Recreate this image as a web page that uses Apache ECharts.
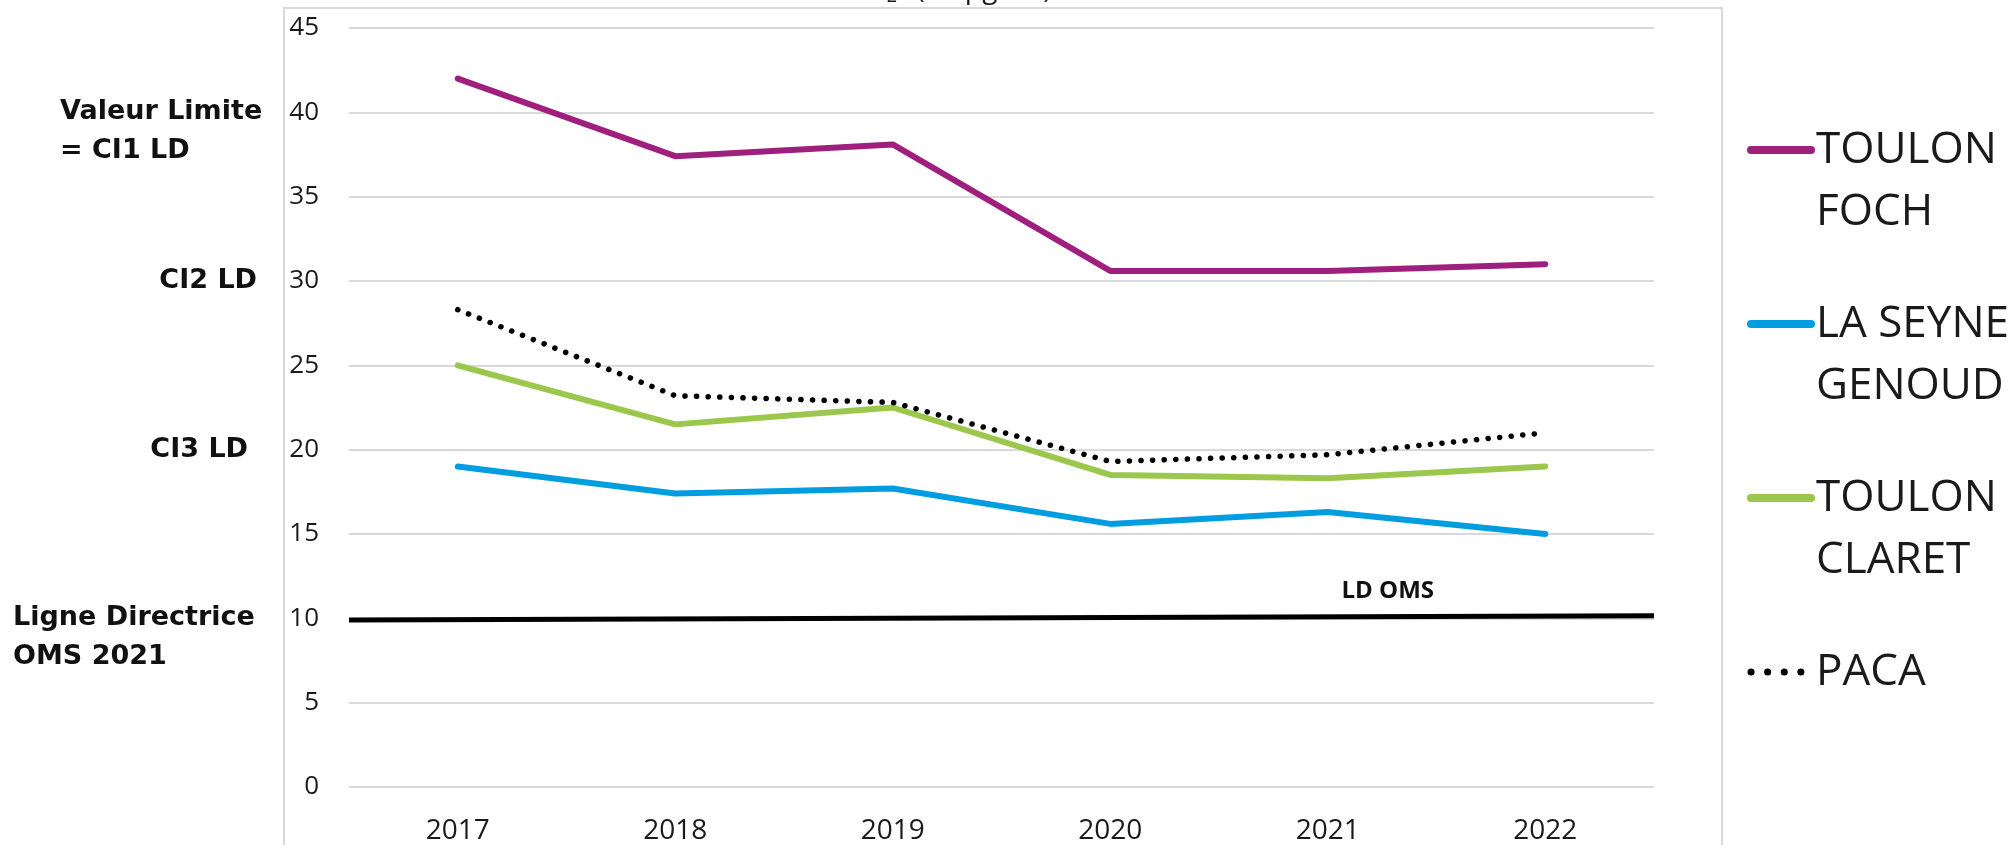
<!DOCTYPE html>
<html><head><meta charset="utf-8">
<script src="https://cdn.jsdelivr.net/npm/echarts@6/dist/echarts.min.js"></script>
<style>html,body{margin:0;padding:0;background:#fff;}#c{width:2013px;height:845px;}</style>
</head><body><div id="c"></div>
<script>
const years = ['2017','2018','2019','2020','2021','2022'];
const toulonFoch = [42.0, 37.4, 38.1, 30.6, 30.6, 31.0];
const laSeyneGenoud = [19.0, 17.4, 17.7, 15.6, 16.3, 15.0];
const toulonClaret = [25.0, 21.5, 22.5, 18.5, 18.3, 19.0];
const paca = [28.3, 23.2, 22.8, 19.3, 19.7, 21.0];
const omsLine = [[0, 9.9], [1, 10.15]];
const seriesNames = ['TOULON FOCH', 'LA SEYNE GENOUD', 'TOULON CLARET', 'PACA'];
const legendLabels = [' \nTOULON\nFOCH', ' \nLA SEYNE\nGENOUD', ' \nTOULON\nCLARET', ' \nPACA\n '];
const sideLabels = [
  {value: 40, lines: ['Valeur Limite', '= CI1 LD'], align: 'left'},
  {value: 30, lines: ['CI2 LD'], align: 'right'},
  {value: 20, lines: ['CI3 LD'], align: 'right'},
  {value: 10, lines: ['Ligne Directrice', 'OMS 2021'], align: 'left'}
];
const yTicks = {min: 0, max: 45, interval: 5};

const colors = ['#9E1F7D', '#009EE0', '#9BC74C', '#000000'];
const chart = echarts.init(document.getElementById('c'));
const lineW = 6;
const option = {
  animation: false,
  backgroundColor: '#fff',
  grid: {left: 349, right: 359, top: 28, bottom: 56},
  xAxis: [
    {type: 'category', data: years, boundaryGap: true,
     axisLine: {show: false}, axisTick: {show: false},
     axisLabel: {fontFamily: 'Open Sans', fontSize: 28, color: '#1a1a1a', margin: 30}},
    {type: 'value', min: 0, max: 1, show: false}
  ],
  yAxis: {type: 'value', min: yTicks.min, max: yTicks.max, interval: yTicks.interval,
    axisLine: {show: false}, axisTick: {show: false},
    axisLabel: {fontFamily: 'Open Sans', fontSize: 26, color: '#1a1a1a', margin: 30},
    splitLine: {lineStyle: {color: '#D9D9D9', width: 2}}},
  legend: {
    orient: 'vertical', left: 1747, top: 57, padding: 0, itemGap: -12,
    itemWidth: 60, itemHeight: 14,
    itemStyle: {opacity: 0},
    textStyle: {fontFamily: 'Open Sans', fontSize: 44, lineHeight: 62, color: '#1a1a1a'},
    formatter: function (n) { return legendLabels[seriesNames.indexOf(n)]; },
    data: [
      {name: seriesNames[0], lineStyle: {width: 8, cap: 'round'}},
      {name: seriesNames[1], lineStyle: {width: 8, cap: 'round'}},
      {name: seriesNames[2], lineStyle: {width: 8, cap: 'round'}},
      {name: seriesNames[3], lineStyle: {width: 7, type: [0.1, 16.5], cap: 'round'}}
    ]
  },
  series: [
    {name: seriesNames[0], type: 'line', data: toulonFoch, symbol: 'none', color: colors[0],
     lineStyle: {width: lineW, color: colors[0], cap: 'round', join: 'round'}},
    {name: seriesNames[1], type: 'line', data: laSeyneGenoud, symbol: 'none', color: colors[1],
     lineStyle: {width: lineW, color: colors[1], cap: 'round', join: 'round'}},
    {name: seriesNames[2], type: 'line', data: toulonClaret, symbol: 'none', color: colors[2],
     lineStyle: {width: lineW, color: colors[2], cap: 'round', join: 'round'}},
    {name: seriesNames[3], type: 'line', data: paca, symbol: 'none', color: colors[3], z: 3,
     lineStyle: {width: 5.5, color: colors[3], type: [0.1, 11.5], cap: 'round'}},
    {name: 'LD OMS', type: 'line', xAxisIndex: 1, data: omsLine, symbol: 'none', color: '#000',
     lineStyle: {width: 5, color: '#000'}}
  ]
};
chart.setOption(option);

const graphics = [];
// frame
graphics.push({type: 'rect', shape: {x: 284, y: 8, width: 1438, height: 900}, silent: true,
  style: {fill: 'none', stroke: '#D9D9D9', lineWidth: 2}, z: -1});
// title (mostly cropped above the frame)
graphics.push({type: 'text', x: 844, y: -27, silent: true,
  style: {text: '{n|NO}{s|2}{n| (en µg/m³)}', rich: {
    n: {fontFamily: 'Open Sans', fontSize: 28, fill: '#1a1a1a', lineHeight: 34},
    s: {fontFamily: 'Open Sans', fontSize: 18, fill: '#1a1a1a', lineHeight: 34, padding: [14, 12, 0, 0]}}}});
sideLabels.forEach(function (s) {
  const y = chart.convertToPixel({yAxisIndex: 0}, s.value);
  s.lines.forEach(function (t, i) {
    graphics.push({type: 'text', silent: true,
      x: s.align === 'left' ? (s.value === 10 ? 13 : 60) : (s.value === 30 ? 257 : 248),
      y: y + i * 39,
      style: {text: t, fontFamily: 'DejaVu Sans', fontWeight: 'bold', fontSize: 27, fill: '#111',
        align: s.align, verticalAlign: 'middle'}});
  });
});
const omsLbl = chart.convertToPixel({xAxisIndex: 1, yAxisIndex: 0}, [0.796, 11.6]);
graphics.push({type: 'text', silent: true, x: omsLbl[0], y: omsLbl[1],
  style: {text: 'LD OMS', fontFamily: 'Open Sans', fontWeight: 'bold', fontSize: 24, fill: '#111',
    align: 'center', verticalAlign: 'middle'}});
chart.setOption({graphic: graphics});
</script></body></html>
